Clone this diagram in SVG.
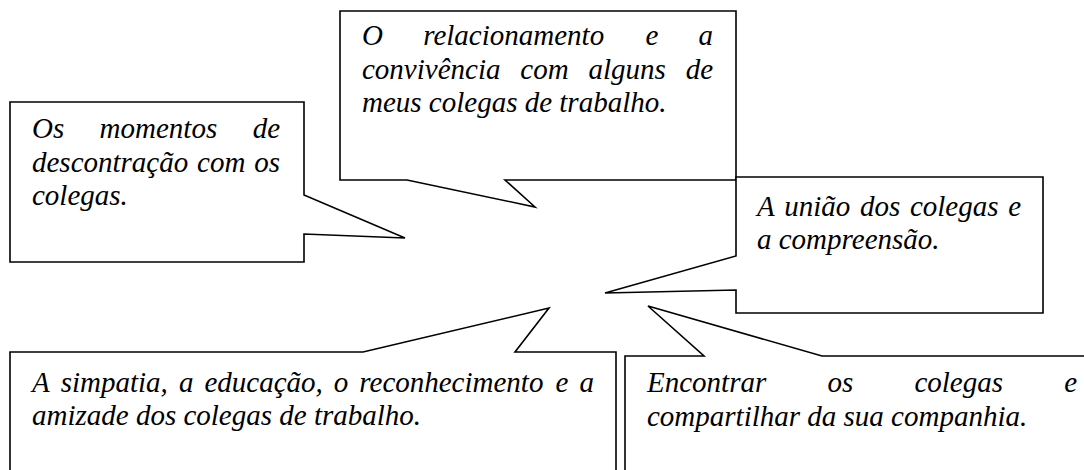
<svg xmlns="http://www.w3.org/2000/svg" width="1084" height="470" viewBox="0 0 1084 470">
<style>
.box{fill:#fff;stroke:#000;stroke-width:1.6;stroke-linejoin:miter}
text{font-family:'Liberation Serif','Times New Roman',serif;font-style:italic;font-size:29px;fill:#000}
.e{text-anchor:end}
</style>
<rect x="0" y="0" width="1084" height="470" fill="#fff"/>
<g id="connectors"></g>
<g id="node-top">
<polygon class="box" points="340,11 736,11 736,180 505,180 535,207 407,180 340,180"/>
<text y="45"><tspan x="362">O</tspan><tspan x="423.2">relacionamento</tspan><tspan x="645.4">e</tspan></text>
<text class="e" x="713" y="45">a</text>
<text y="79"><tspan x="362">convivência</tspan><tspan x="520.3">com</tspan><tspan x="588.5">alguns</tspan></text>
<text class="e" x="713" y="79">de</text>
<text x="362" y="112">meus colegas de trabalho.</text>
</g>
<g id="node-left">
<polygon class="box" points="10,102 304,102 304,195 405,238 304,234 304,262 10,262"/>
<text y="138"><tspan x="32">Os</tspan><tspan x="99.6">momentos</tspan></text>
<text class="e" x="280" y="138">de</text>
<text y="172"><tspan x="32">descontração</tspan><tspan x="197.1">com</tspan></text>
<text class="e" x="280" y="172">os</text>
<text x="32" y="205">colegas.</text>
</g>
<g id="node-right">
<polygon class="box" points="736,177 1043,177 1043,313 736,313 736,290 605,293 736,256"/>
<text y="216"><tspan x="757">A</tspan><tspan x="784.3">união</tspan><tspan x="860">dos</tspan><tspan x="909.9">colegas</tspan></text>
<text class="e" x="1021" y="216">e</text>
<text x="757" y="249">a compreensão.</text>
</g>
<g id="node-bottom-left">
<polygon class="box" points="10,352 363,352 549,308 515,352 616,352 616,480 10,480"/>
<text y="392"><tspan x="32">A</tspan><tspan x="60.7">simpatia,</tspan><tspan x="178.9">a</tspan><tspan x="204.4">educação,</tspan><tspan x="333.8">o</tspan><tspan x="359.3">reconhecimento</tspan><tspan x="555.6">e</tspan></text>
<text class="e" x="594" y="392">a</text>
<text x="32" y="425">amizade dos colegas de trabalho.</text>
</g>
<g id="node-bottom-right">
<polygon class="box" points="625,356 704,356 648,306 822,356 1100,356 1100,480 625,480"/>
<text y="392"><tspan x="647">Encontrar</tspan><tspan x="827.4">os</tspan><tspan x="914.4">colegas</tspan></text>
<text class="e" x="1077" y="392">e</text>
<text x="647" y="426">compartilhar da sua companhia.</text>
</g>
</svg>
